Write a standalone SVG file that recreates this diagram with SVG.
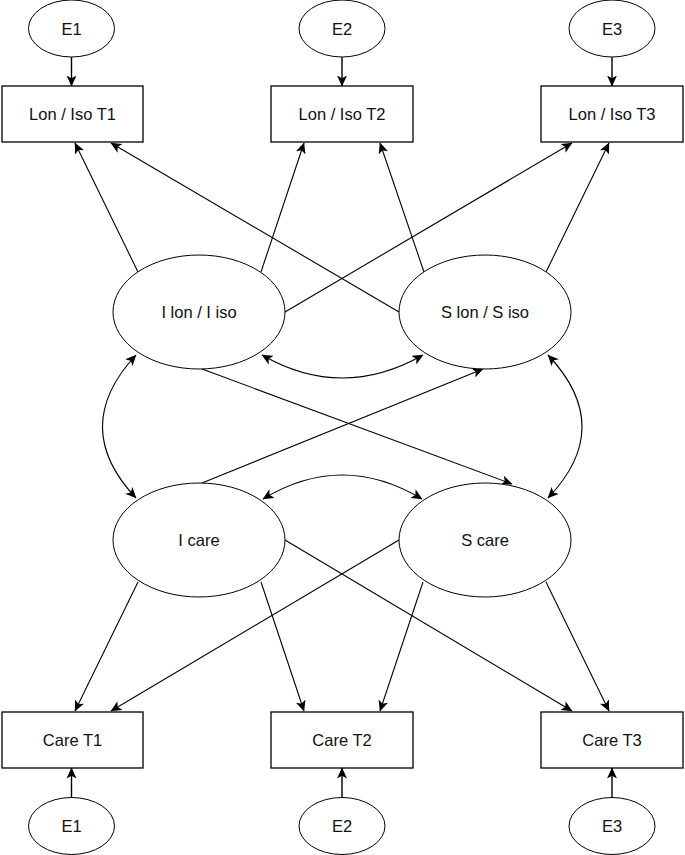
<svg xmlns="http://www.w3.org/2000/svg" width="685" height="855" viewBox="0 0 685 855">
<defs>
<marker id="arr" viewBox="0 0 11 10" refX="10.5" refY="5" markerWidth="11" markerHeight="10" markerUnits="userSpaceOnUse" orient="auto-start-reverse">
<path d="M0,0 L11,5 L0,10 L2.8,5 z" fill="#000"/>
</marker>
<style>
.box{fill:#fff;stroke:#000;stroke-width:1.3}
.ell{fill:#fff;stroke:#000;stroke-width:1}
.lbl{font-family:"Liberation Sans",Arial,sans-serif;font-size:16.5px;fill:#111;text-anchor:middle}
.c{fill:none;stroke:#000;stroke-width:1.1;marker-end:url(#arr)}
.c2{fill:none;stroke:#000;stroke-width:1.1;marker-end:url(#arr);marker-start:url(#arr)}
.e{fill:none;stroke:#000;stroke-width:1.4;marker-end:url(#arr)}
</style>
</defs>
<rect width="685" height="855" fill="#fff"/>
<g id="connectors">
<line class="e" x1="71.5" y1="57" x2="71.5" y2="86"/>
<line class="e" x1="342" y1="57" x2="342" y2="86"/>
<line class="e" x1="612" y1="57" x2="612" y2="86"/>
<line class="e" x1="71.5" y1="797" x2="71.5" y2="768"/>
<line class="e" x1="342" y1="797" x2="342" y2="768"/>
<line class="e" x1="612" y1="797" x2="612" y2="768"/>
<line class="c" x1="138" y1="272" x2="75" y2="143"/>
<line class="c" x1="399" y1="312" x2="111" y2="143"/>
<line class="c" x1="261" y1="272" x2="304" y2="143"/>
<line class="c" x1="424" y1="272" x2="380" y2="143"/>
<line class="c" x1="285" y1="312" x2="572" y2="143"/>
<line class="c" x1="546" y1="272" x2="609" y2="143"/>
<line class="c" x1="202" y1="369" x2="512" y2="484"/>
<line class="c" x1="202" y1="483" x2="483" y2="369"/>
<path class="c2" d="M262,355 Q342,401 423,355"/>
<path class="c2" d="M263,499 Q342,451 422,499"/>
<path class="c2" d="M136,355 Q69,427 136,498"/>
<path class="c2" d="M548,355 Q616,427 548,498"/>
<line class="c" x1="138" y1="582" x2="75" y2="711"/>
<line class="c" x1="399" y1="540" x2="111" y2="711"/>
<line class="c" x1="261" y1="582" x2="304" y2="711"/>
<line class="c" x1="423" y1="582" x2="380" y2="711"/>
<line class="c" x1="285" y1="540" x2="572" y2="711"/>
<line class="c" x1="546" y1="582" x2="609" y2="711"/>
</g>
<g id="E1top"><ellipse class="ell" cx="71.5" cy="28.5" rx="43" ry="28.5"/><text class="lbl" x="71.5" y="34.5">E1</text></g>
<g id="E2top"><ellipse class="ell" cx="342" cy="28.5" rx="43" ry="28.5"/><text class="lbl" x="342" y="34.5">E2</text></g>
<g id="E3top"><ellipse class="ell" cx="612" cy="28.5" rx="43" ry="28.5"/><text class="lbl" x="612" y="34.5">E3</text></g>
<g id="LonIsoT1"><rect class="box" x="2" y="86" width="141" height="56"/><text class="lbl" x="72.5" y="119.5">Lon / Iso T1</text></g>
<g id="LonIsoT2"><rect class="box" x="271" y="86" width="142" height="56"/><text class="lbl" x="342" y="119.5">Lon / Iso T2</text></g>
<g id="LonIsoT3"><rect class="box" x="541" y="86" width="142" height="56"/><text class="lbl" x="612" y="119.5">Lon / Iso T3</text></g>
<g id="IlonIiso"><ellipse class="ell" cx="199" cy="312" rx="86" ry="57"/><text class="lbl" x="199" y="318">I lon / I iso</text></g>
<g id="SlonSiso"><ellipse class="ell" cx="485" cy="312" rx="86" ry="57"/><text class="lbl" x="485" y="318">S lon / S iso</text></g>
<g id="Icare"><ellipse class="ell" cx="199" cy="540" rx="86" ry="57"/><text class="lbl" x="199" y="546">I care</text></g>
<g id="Scare"><ellipse class="ell" cx="485" cy="540" rx="86" ry="57"/><text class="lbl" x="485" y="546">S care</text></g>
<g id="CareT1"><rect class="box" x="2" y="712" width="141" height="56"/><text class="lbl" x="72.5" y="745.5">Care T1</text></g>
<g id="CareT2"><rect class="box" x="271" y="712" width="142" height="56"/><text class="lbl" x="342" y="745.5">Care T2</text></g>
<g id="CareT3"><rect class="box" x="541" y="712" width="142" height="56"/><text class="lbl" x="612" y="745.5">Care T3</text></g>
<g id="E1bot"><ellipse class="ell" cx="71.5" cy="826" rx="43" ry="28.5"/><text class="lbl" x="71.5" y="832">E1</text></g>
<g id="E2bot"><ellipse class="ell" cx="342" cy="826" rx="43" ry="28.5"/><text class="lbl" x="342" y="832">E2</text></g>
<g id="E3bot"><ellipse class="ell" cx="612" cy="826" rx="43" ry="28.5"/><text class="lbl" x="612" y="832">E3</text></g>
</svg>
